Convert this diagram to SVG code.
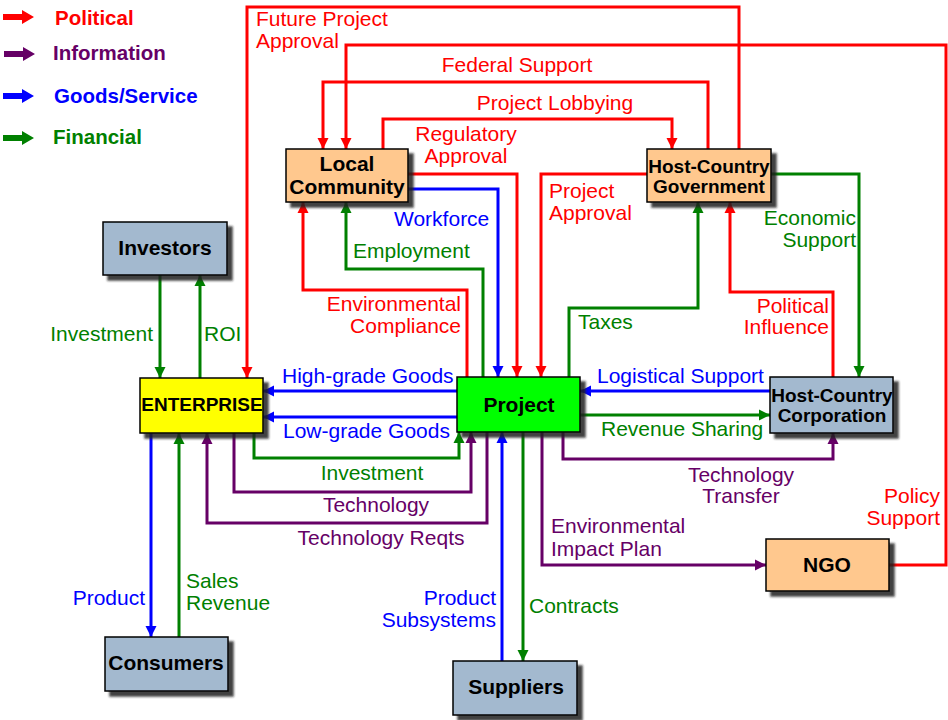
<svg xmlns="http://www.w3.org/2000/svg" width="948" height="720" viewBox="0 0 948 720">
<defs>
<filter id="sh" x="-10%" y="-10%" width="130%" height="140%">
<feDropShadow dx="5" dy="5" stdDeviation="1.2" flood-color="#222" flood-opacity="0.85"/>
</filter>
<marker id="ar" viewBox="0 0 10 10" refX="10" refY="5" markerWidth="11" markerHeight="12" markerUnits="userSpaceOnUse" orient="auto"><path d="M0,0 L10,5 L0,10 z" fill="#FF0000"/></marker>
<marker id="ap" viewBox="0 0 10 10" refX="10" refY="5" markerWidth="11" markerHeight="12" markerUnits="userSpaceOnUse" orient="auto"><path d="M0,0 L10,5 L0,10 z" fill="#660066"/></marker>
<marker id="ab" viewBox="0 0 10 10" refX="10" refY="5" markerWidth="11" markerHeight="12" markerUnits="userSpaceOnUse" orient="auto"><path d="M0,0 L10,5 L0,10 z" fill="#0000FF"/></marker>
<marker id="ag" viewBox="0 0 10 10" refX="10" refY="5" markerWidth="11" markerHeight="12" markerUnits="userSpaceOnUse" orient="auto"><path d="M0,0 L10,5 L0,10 z" fill="#008000"/></marker>
</defs>
<style>
.c{fill:none;stroke-width:3;stroke-linejoin:miter}
.r{stroke:#FF0000;marker-end:url(#ar)}
.p{stroke:#660066;marker-end:url(#ap)}
.b{stroke:#0000FF;marker-end:url(#ab)}
.g{stroke:#008000;marker-end:url(#ag)}
.n{stroke:#000;stroke-width:1.5;filter:url(#sh)}
.or{fill:#FFC88E}
.bg{fill:#A3B9CF}
.nt{font-family:"Liberation Sans",Arial,sans-serif;font-weight:bold;font-size:21px;fill:#000;text-anchor:middle}
.ns{font-size:19px}
.l{font-family:"Liberation Sans",Arial,sans-serif;font-size:21px}
.lr{fill:#FF0000}.lp{fill:#660066}.lb{fill:#0000FF}.lg{fill:#008000}
.e{text-anchor:end}.m{text-anchor:middle}
.lg1{font-family:"Liberation Sans",Arial,sans-serif;font-weight:bold;font-size:20.5px}
</style>
<rect width="948" height="720" fill="#FFFFFF"/>
<g id="legend">
<polygon points="3,14 22,14 22,10 34,17 22,24 22,20 3,20" fill="#FF0000"/>
<text class="lg1 lr" x="55" y="25">Political</text>
<polygon points="4,51 23,51 23,47 35,54 23,61 23,57 4,57" fill="#660066"/>
<text class="lg1 lp" x="53" y="60">Information</text>
<polygon points="3,93 22,93 22,89 34,96 22,103 22,99 3,99" fill="#0000FF"/>
<text class="lg1 lb" x="54" y="103">Goods/Service</text>
<polygon points="3,135 22,135 22,131 34,138 22,145 22,141 3,141" fill="#008000"/>
<text class="lg1 lg" x="53" y="144">Financial</text>
</g>
<g id="connectors">
<path class="c r" d="M739,149 V7 H247 V378"/>
<path class="c r" d="M889,565 H946 V45 H346 V149"/>
<path class="c r" d="M708,149 V82 H323 V149"/>
<path class="c r" d="M383,149 V119 H672 V149"/>
<path class="c r" d="M408,174 H517 V377"/>
<path class="c r" d="M647,174 H541 V377"/>
<path class="c r" d="M467,377 V290 H303 V202"/>
<path class="c r" d="M833,377 V292 H730 V202"/>
<path class="c p" d="M563,432 V459 H833 V433"/>
<path class="c p" d="M234,433 V492 H471 V432"/>
<path class="c p" d="M487,432 V523 H207 V433"/>
<path class="c p" d="M542,432 V565 H766"/>
<path class="c b" d="M408,189 H498 V377"/>
<path class="c b" d="M457,391 H263"/>
<path class="c b" d="M457,417 H263"/>
<path class="c b" d="M770,391 H580"/>
<path class="c b" d="M151,433 V637"/>
<path class="c b" d="M502,661 V432"/>
<path class="c g" d="M483,377 V269 H346 V202"/>
<path class="c g" d="M569,377 V308 H698 V202"/>
<path class="c g" d="M771,174 H859 V377"/>
<path class="c g" d="M160,275 V378"/>
<path class="c g" d="M200,378 V275"/>
<path class="c g" d="M580,415 H770"/>
<path class="c g" d="M254,433 V458 H459 V432"/>
<path class="c g" d="M179,637 V433"/>
<path class="c g" d="M523,432 V661"/>
</g>
<g id="labels">
<text class="l lr" x="256" y="26">Future Project</text>
<text class="l lr" x="256" y="48">Approval</text>
<text class="l lr m" x="517" y="72">Federal Support</text>
<text class="l lr m" x="555" y="110">Project Lobbying</text>
<text class="l lr m" x="466" y="141">Regulatory</text>
<text class="l lr m" x="466" y="163">Approval</text>
<text class="l lr" x="549" y="198">Project</text>
<text class="l lr" x="549" y="220">Approval</text>
<text class="l lr e" x="461" y="311">Environmental</text>
<text class="l lr e" x="461" y="333">Compliance</text>
<text class="l lr e" x="829" y="313">Political</text>
<text class="l lr e" x="829" y="334">Influence</text>
<text class="l lr e" x="940" y="503">Policy</text>
<text class="l lr e" x="940" y="525">Support</text>
<text class="l lb" x="394" y="226">Workforce</text>
<text class="l lg" x="353" y="258">Employment</text>
<text class="l lg" x="578" y="329">Taxes</text>
<text class="l lg e" x="856" y="225">Economic</text>
<text class="l lg e" x="856" y="247">Support</text>
<text class="l lg e" x="153" y="341">Investment</text>
<text class="l lg" x="204" y="341">ROI</text>
<text class="l lb" x="282" y="383">High-grade Goods</text>
<text class="l lb" x="283" y="438">Low-grade Goods</text>
<text class="l lb" x="597" y="383">Logistical Support</text>
<text class="l lg" x="601" y="436">Revenue Sharing</text>
<text class="l lp m" x="741" y="482">Technology</text>
<text class="l lp m" x="741" y="503">Transfer</text>
<text class="l lg m" x="372" y="480">Investment</text>
<text class="l lp m" x="376" y="512">Technology</text>
<text class="l lp m" x="381" y="545">Technology Reqts</text>
<text class="l lp" x="551" y="533">Environmental</text>
<text class="l lp" x="551" y="556">Impact Plan</text>
<text class="l lb e" x="145" y="605">Product</text>
<text class="l lg" x="186" y="588">Sales</text>
<text class="l lg" x="186" y="610">Revenue</text>
<text class="l lb e" x="496" y="605">Product</text>
<text class="l lb e" x="496" y="627">Subsystems</text>
<text class="l lg" x="529" y="613">Contracts</text>
</g>
<g id="local-community">
<rect class="n or" x="286" y="149" width="122" height="53"/>
<text class="nt" x="347" y="171">Local</text>
<text class="nt" x="347" y="194">Community</text>
</g>
<g id="host-country-government">
<rect class="n or" x="647" y="149" width="124" height="53"/>
<text class="nt ns" x="709" y="173">Host-Country</text>
<text class="nt ns" x="709" y="193">Government</text>
</g>
<g id="investors">
<rect class="n bg" x="103" y="222" width="124" height="53"/>
<text class="nt" x="165" y="255">Investors</text>
</g>
<g id="enterprise">
<rect class="n" x="140" y="378" width="123" height="55" fill="#FFFF00"/>
<text class="nt ns" x="202" y="411">ENTERPRISE</text>
</g>
<g id="project">
<rect class="n" x="457" y="377" width="123" height="55" fill="#00FF00"/>
<text class="nt" x="519" y="412">Project</text>
</g>
<g id="host-country-corporation">
<rect class="n bg" x="770" y="377" width="123" height="56"/>
<text class="nt ns" x="832" y="402">Host-Country</text>
<text class="nt ns" x="832" y="422">Corporation</text>
</g>
<g id="ngo">
<rect class="n or" x="766" y="539" width="123" height="52"/>
<text class="nt" x="827" y="572">NGO</text>
</g>
<g id="consumers">
<rect class="n bg" x="105" y="637" width="123" height="54"/>
<text class="nt" x="166" y="670">Consumers</text>
</g>
<g id="suppliers">
<rect class="n bg" x="453" y="661" width="124" height="54"/>
<text class="nt" x="516" y="694">Suppliers</text>
</g>
</svg>
